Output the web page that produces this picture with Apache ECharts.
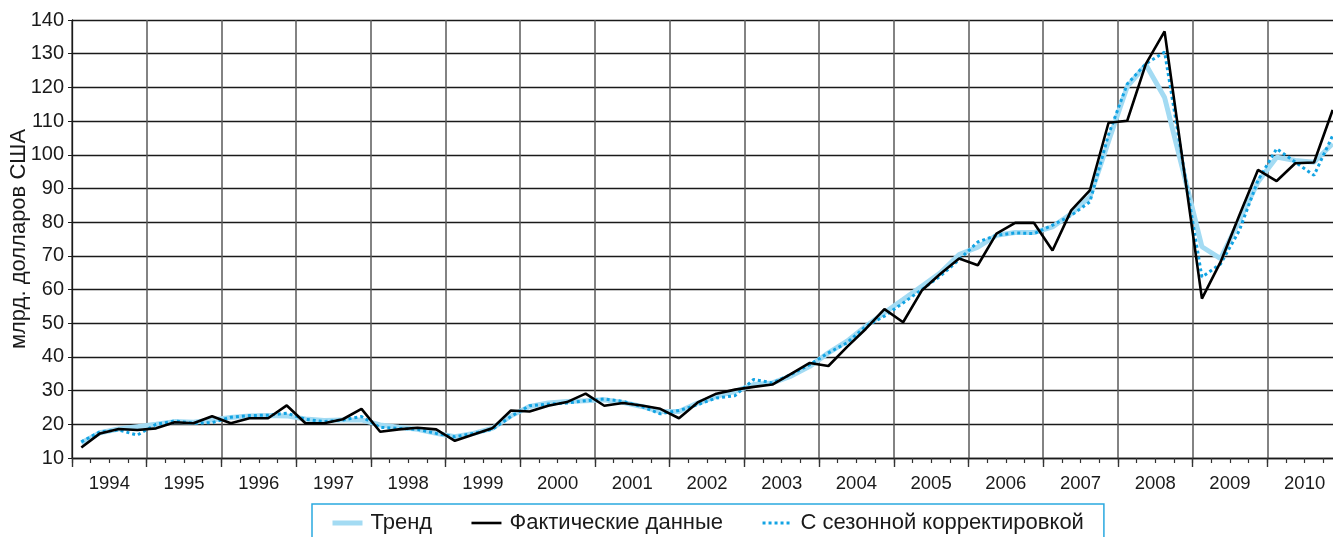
<!DOCTYPE html>
<html>
<head>
<meta charset="utf-8">
<title>chart</title>
<script src="https://cdn.jsdelivr.net/npm/echarts@6/dist/echarts.min.js"></script>
<style>
  html, body { margin: 0; padding: 0; background: #fff; }
  #chart { width: 1333px; height: 537px; }
</style>
</head>
<body>
<div id="chart"></div>
<script>
// years shown on the axis, data is quarterly (4 points per year)
var years = ['1994', '1995', '1996', '1997', '1998', '1999', '2000', '2001', '2002',
  '2003', '2004', '2005', '2006', '2007', '2008', '2009', '2010']

var quarters = []
years.forEach(function (y) {
  for (var q = 1; q <= 4; q++) quarters.push(y + ' Q' + q)
})

// млрд. долларов США
var trend = [
  14.5, 17.5, 18.6, 19.3,
  20.0, 20.8, 20.6, 21.3,
  22.0, 22.5, 22.6, 22.5,
  21.6, 21.1, 21.3, 21.3,
  19.8, 19.1, 18.5, 17.3,
  16.3, 17.3, 18.8, 22.5,
  25.3, 26.3, 26.8, 27.0,
  27.3, 26.5, 25.3, 23.8,
  23.8, 26.3, 28.3, 29.8,
  31.8, 32.3, 34.3, 37.2,
  41.2, 44.7, 49.1, 53.1,
  57.0, 61.0, 65.0, 70.4,
  72.6, 76.1, 76.9, 76.9,
  78.6, 82.5, 87.5, 104.0,
  120.2, 126.7, 117.0, 95.0,
  72.7, 69.2, 80.5, 91.9,
  99.3, 98.3, 97.8, 103.3
]

var actual = [
  13.1, 17.3, 18.6, 18.3,
  18.8, 20.6, 20.3, 22.4,
  20.3, 21.8, 21.8, 25.6,
  20.3, 20.3, 21.5, 24.6,
  17.8, 18.5, 19.0, 18.5,
  15.1, 17.0, 18.8, 24.1,
  23.8, 25.5, 26.6, 29.1,
  25.5, 26.3, 25.6, 24.6,
  21.8, 26.5, 29.1, 30.3,
  31.1, 31.8, 35.0, 38.2,
  37.3, 43.0, 48.3, 54.2,
  50.3, 59.7, 64.7, 69.2,
  67.2, 76.6, 79.8, 79.8,
  71.6, 83.5, 89.4, 109.5,
  110.1, 127.0, 136.6, 97.0,
  57.3, 68.2, 82.0, 95.5,
  92.2, 97.5, 97.7, 113.3
]

var seasonal = [
  14.8, 17.8, 18.3, 16.8,
  20.0, 21.0, 20.3, 20.5,
  22.1, 22.6, 22.7, 23.3,
  21.5, 20.8, 21.3, 22.3,
  19.1, 18.8, 18.5, 17.3,
  16.3, 17.3, 18.5, 22.3,
  25.5, 26.0, 26.3, 27.0,
  27.5, 26.8, 25.3, 23.1,
  24.1, 25.8, 27.8, 28.5,
  33.3, 32.3, 34.8, 37.7,
  41.2, 44.2, 49.1, 52.1,
  56.0, 60.0, 64.0, 68.9,
  74.1, 76.1, 76.8, 76.6,
  79.1, 82.0, 86.0, 106.0,
  121.0, 127.0, 130.5, 97.0,
  63.7, 67.6, 77.5, 92.4,
  101.8, 97.8, 93.9, 105.7
]

var font = '"Liberation Sans", Arial, Helvetica, sans-serif'
var trendColor = '#a3dbf3'
var seasonalColor = '#12a3e3'

var chart = echarts.init(document.getElementById('chart'))
chart.setOption({
  animation: false,
  textStyle: { fontFamily: font, color: '#1a1a1a' },
  grid: {
    left: 72,
    right: -9, // plot runs a bit past the right edge
    top: 20,
    bottom: 79,
    containLabel: false,
    outerBoundsMode: 'none'
  },
  legend: {
    left: 312,
    top: 504,
    padding: [8, 20, 7, 18],
    borderColor: '#2aa9e0',
    borderWidth: 1.5,
    itemWidth: 30,
    itemHeight: 14,
    itemGap: 38,
    itemStyle: { opacity: 0 }, // no symbol in the middle of the line
    textStyle: { fontSize: 22, color: '#1a1a1a', fontFamily: font, padding: [0, 0, 0, 3] },
    data: [
      { name: 'Тренд', lineStyle: { color: trendColor, width: 5 } },
      { name: 'Фактические данные', lineStyle: { color: '#000', width: 2.6 } },
      { name: 'С сезонной корректировкой', lineStyle: { color: seasonalColor, width: 3, type: [3, 3] } }
    ]
  },
  xAxis: [
    {
      // quarters: small ticks
      type: 'category',
      data: quarters,
      boundaryGap: true,
      axisLine: { show: true, lineStyle: { color: '#1a1a1a', width: 1.3 } },
      axisTick: { show: true, interval: 0, length: 5, lineStyle: { color: '#333', width: 1.2 } },
      axisLabel: { show: false },
      splitLine: { show: false }
    },
    {
      // years: labels, long ticks, vertical grid
      type: 'category',
      data: years,
      position: 'bottom',
      boundaryGap: true,
      axisLine: { show: false },
      axisTick: { show: true, interval: 0, length: 9, lineStyle: { color: '#333', width: 1.4 } },
      axisLabel: { fontSize: 18.5, margin: 16, color: '#1a1a1a', fontFamily: font },
      splitLine: { show: true, interval: 0, lineStyle: { color: '#5a5a5a', width: 1.5 } }
    }
  ],
  yAxis: {
    type: 'value',
    min: 10,
    max: 140,
    interval: 10,
    name: 'млрд. долларов США',
    nameLocation: 'middle',
    nameGap: 42,
    nameMoveOverlap: false,
    nameTextStyle: { fontSize: 22, color: '#1a1a1a', fontFamily: font },
    axisLine: { show: true, lineStyle: { color: '#1a1a1a', width: 1.3 } },
    axisTick: { show: true, length: 4, lineStyle: { color: '#1a1a1a' } },
    axisLabel: { fontSize: 20, margin: 8, color: '#1a1a1a', fontFamily: font },
    splitLine: { show: true, lineStyle: { color: '#1a1a1a', width: 1.3 } }
  },
  series: [
    {
      name: 'Тренд',
      type: 'line',
      data: trend,
      symbol: 'none',
      z: 2,
      itemStyle: { color: trendColor },
      lineStyle: { color: trendColor, width: 5 }
    },
    {
      name: 'Фактические данные',
      type: 'line',
      data: actual,
      symbol: 'none',
      z: 4,
      itemStyle: { color: '#000' },
      lineStyle: { color: '#000', width: 2.6 }
    },
    {
      name: 'С сезонной корректировкой',
      type: 'line',
      data: seasonal,
      symbol: 'none',
      z: 3,
      itemStyle: { color: seasonalColor },
      lineStyle: { color: seasonalColor, width: 3, type: [3, 3] }
    }
  ]
})
</script>
</body>
</html>
